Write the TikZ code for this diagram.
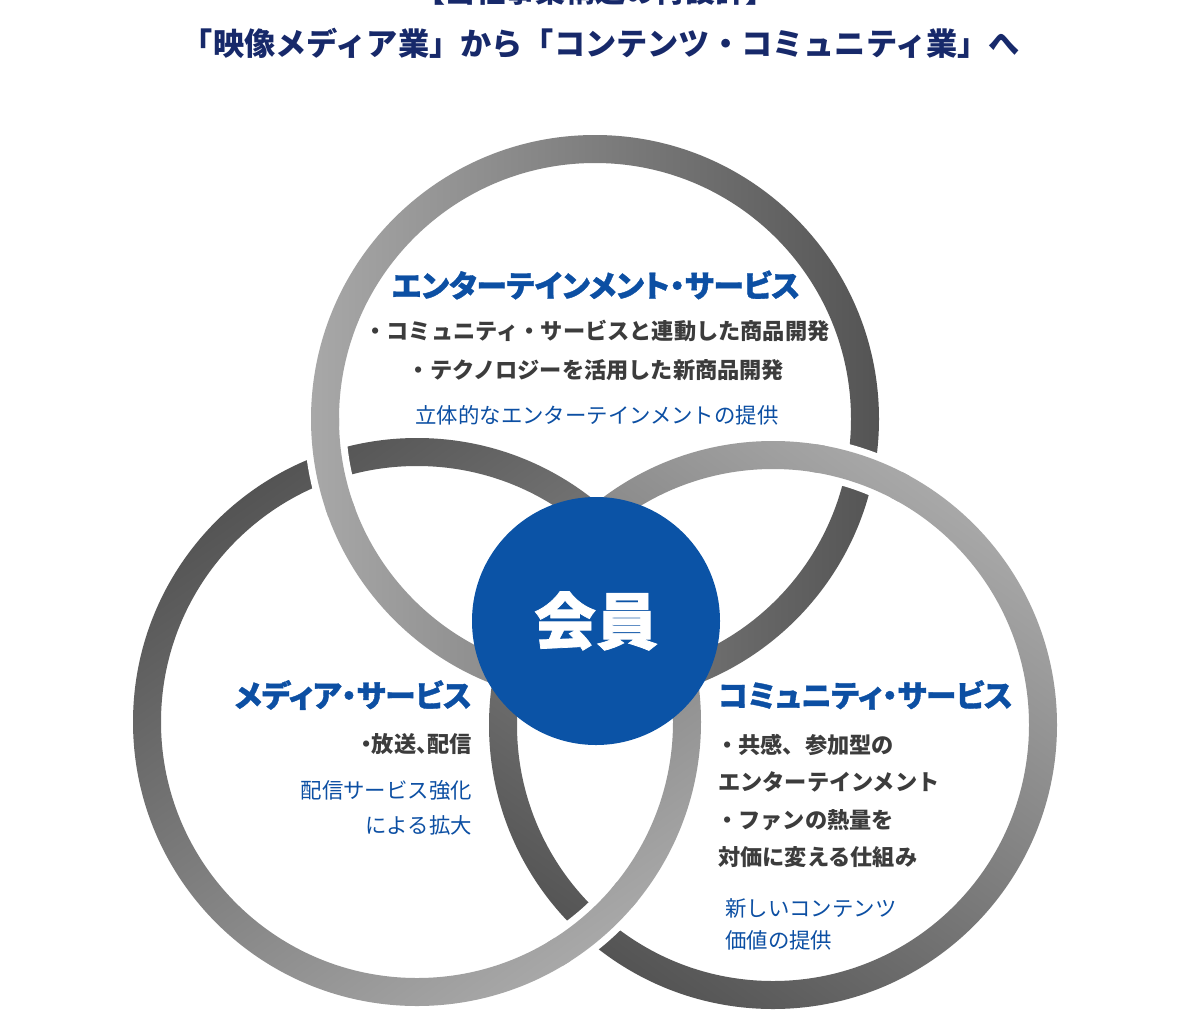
\documentclass[tikz,border=0pt]{standalone}
\usepackage{fontspec}
\newfontfamily\jp{Noto Sans CJK JP}[RawFeature=+palt]
\newfontfamily\jphead{Noto Sans CJK JP}[RawFeature=+palt, BoldFeatures={FakeBold=1.2}]
\newfontfamily\jpf{Noto Sans CJK JP}
\definecolor{rlight}{HTML}{A8A8A8}
\definecolor{rdark}{HTML}{545454}
\definecolor{myblue}{HTML}{0C4FA3}
\definecolor{circblue}{HTML}{0B53A6}
\definecolor{navy}{HTML}{17296A}
\definecolor{mygray}{HTML}{3C3C3C}
\tikzset{
  ringT/.style={left color=rlight, right color=rdark},
  ringL/.style={top color=rdark, bottom color=rlight, shading angle=35},
  ringR/.style={top color=rlight, bottom color=rdark, shading angle=-35},
  gapband/.style={draw=white, line width=42pt},
  headtxt/.style={font=\jphead\bfseries\fontsize{30.5}{30.5}\selectfont, text=myblue, inner sep=0pt},
  bodytxt/.style={font=\jpf\bfseries\fontsize{22.2}{22.2}\selectfont, text=mygray, inner sep=0pt},
  notetxt/.style={font=\jpf\fontsize{21.4}{21.4}\selectfont, text=myblue, inner sep=0pt},
  titletxt/.style={font=\jpf\bfseries\fontsize{31.2}{31.2}\selectfont, text=navy, inner sep=0pt}
}
\def\RT{(595,419) circle[radius=284pt] (595,419) circle[radius=256pt]}
\def\RL{(417,722) circle[radius=284pt] (417,722) circle[radius=256pt]}
\def\RR{(773,725) circle[radius=284pt] (773,725) circle[radius=256pt]}
\begin{document}
\begin{tikzpicture}[x=1pt,y=-1pt]
\useasboundingbox (0,0) rectangle (1200,1034);
\clip (0,0) rectangle (1200,1034);
\fill[white] (0,0) rectangle (1200,1034);

% titles
\node[titletxt, anchor=base, font=\jpf\bfseries\fontsize{30}{30}\selectfont] (sup) at (595,2) {【当社事業構造の再設計】};
\node[titletxt] (title) at (601,43) {「映像メディア業」から「コンテンツ・コミュニティ業」へ};

% rings
\shade[even odd rule, ringT] \RT;
\shade[even odd rule, ringL] \RL;
\shade[even odd rule, ringR] \RR;

% crossing 1: top ring over left ring
\begin{scope}
  \clip (329,467) circle[radius=42pt];
  \draw[gapband] (595,419) circle[radius=270pt];
\end{scope}
\begin{scope}
  \clip (329,467) circle[radius=50pt];
  \shade[even odd rule, ringT] \RT;
\end{scope}
% crossing 2: right ring over top ring
\begin{scope}
  \clip (860,469) circle[radius=42pt];
  \draw[gapband] (773,725) circle[radius=270pt];
\end{scope}
\begin{scope}
  \clip (860,469) circle[radius=50pt];
  \shade[even odd rule, ringR] \RR;
\end{scope}
% crossing 3: left ring over right ring
\begin{scope}
  \clip (595,927) circle[radius=42pt];
  \draw[gapband] (417,722) circle[radius=270pt];
\end{scope}
\begin{scope}
  \clip (595,927) circle[radius=50pt];
  \shade[even odd rule, ringL] \RL;
\end{scope}

% centre
\node[circle, fill=circblue, minimum size=248pt, inner sep=0pt,
      font=\jphead\bfseries\fontsize{62}{62}\selectfont, text=white] (kaiin) at (596,621) {会員};

% entertainment
\node[headtxt] (entH) at (596,285) {エンターテインメント・サービス};
\node[bodytxt] (entA) at (597,331) {・コミュニティ・サービスと連動した商品開発};
\node[bodytxt] (entB) at (596,370) {・テクノロジーを活用した新商品開発};
\node[notetxt] (entN) at (597,415) {立体的なエンターテインメントの提供};

% media
\node[headtxt, anchor=east] (medH) at (472,695) {メディア・サービス};
\node[bodytxt, anchor=east, font=\jp\bfseries\fontsize{22.2}{22.2}\selectfont] (medA) at (472,744) {・放送、配信};
\node[notetxt, anchor=east] (medN1) at (472,790) {配信サービス強化};
\node[notetxt, anchor=east] (medN2) at (472,825) {による拡大};

% community
\node[headtxt, anchor=west] (comH) at (718,695) {コミュニティ・サービス};
\node[bodytxt, anchor=west] (comA) at (716,745) {・共感、参加型の};
\node[bodytxt, anchor=west] (comB) at (718,782) {エンターテインメント};
\node[bodytxt, anchor=west] (comC) at (716,820) {・ファンの熱量を};
\node[bodytxt, anchor=west] (comD) at (718,857) {対価に変える仕組み};
\node[notetxt, anchor=west] (comN1) at (725,908) {新しいコンテンツ};
\node[notetxt, anchor=west] (comN2) at (725,940) {価値の提供};
\end{tikzpicture}
\end{document}
